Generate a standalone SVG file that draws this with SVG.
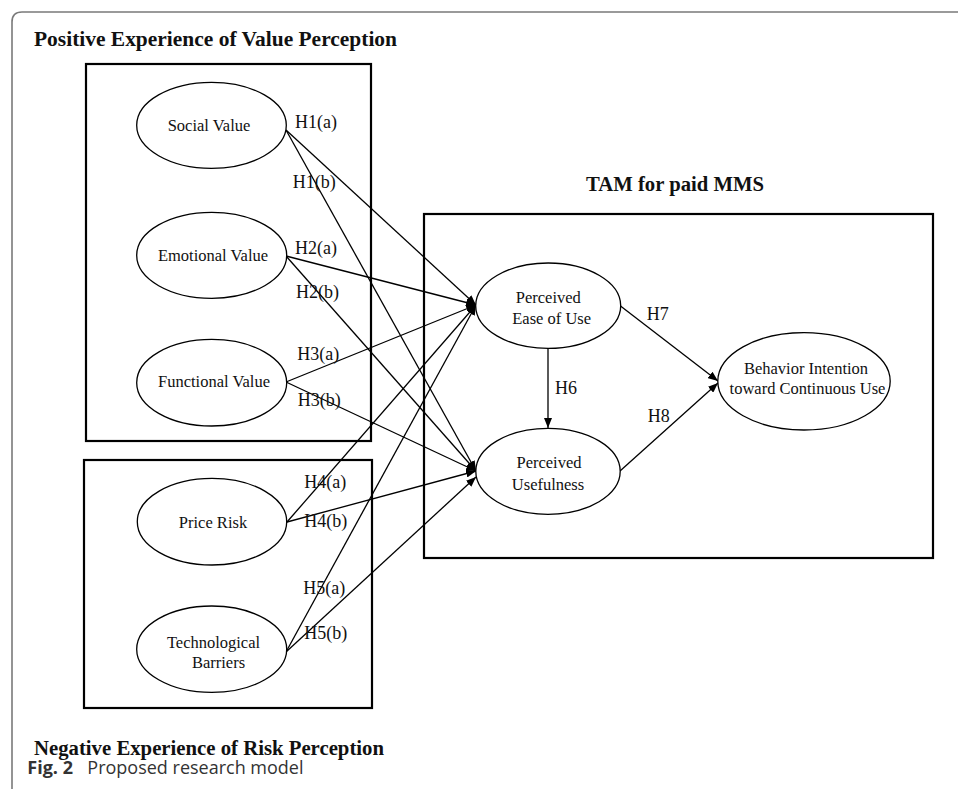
<svg xmlns="http://www.w3.org/2000/svg" width="958" height="789" viewBox="0 0 958 789">
<style>
.frame{fill:none;stroke:#7a7a7a;stroke-width:1.6}
.box{fill:none;stroke:#000;stroke-width:2.2}
.ell{fill:#fff;stroke:#000;stroke-width:1.3}
.lbl{font-family:"Liberation Serif","Times New Roman",serif;font-size:16.5px;fill:#111}
.hyp{font-family:"Liberation Serif","Times New Roman",serif;font-size:18px;fill:#111}
.ttl{font-family:"Liberation Serif","Times New Roman",serif;font-size:20.7px;font-weight:bold;fill:#111}
.cap{font-family:"Open Sans","Noto Sans",sans-serif;font-size:18px;fill:#333}
.conn line{stroke:#000;stroke-width:1.3;marker-end:url(#ah)}
</style>
<defs>
<marker id="ah" viewBox="0 0 10 8" refX="10" refY="4" markerWidth="10" markerHeight="8" markerUnits="userSpaceOnUse" orient="auto">
<path d="M0,0 L10,4 L0,8 Z" fill="#000"/>
</marker>
</defs>
<rect width="958" height="789" fill="#fff"/>
<path class="frame" d="M12,789 V22 Q12,12 22,12 H958"/>

<text class="ttl" x="34" y="46" textLength="363" lengthAdjust="spacingAndGlyphs">Positive Experience of Value Perception</text>
<text class="ttl" x="34" y="755" textLength="350" lengthAdjust="spacingAndGlyphs">Negative Experience of Risk Perception</text>
<text class="ttl" x="675" y="191" text-anchor="middle">TAM for paid MMS</text>
<text class="cap" x="27.3" y="774" font-weight="bold" fill="#222">Fig. 2</text>
<text class="cap" x="87.3" y="774">Proposed research model</text>

<g id="group-positive"><rect class="box" x="86" y="64" width="285" height="377"/></g>
<g id="group-negative"><rect class="box" x="84" y="460" width="288" height="248"/></g>
<g id="group-tam"><rect class="box" x="424" y="214" width="509" height="344"/></g>

<g class="conn" id="connectors">
<line x1="286" y1="130" x2="476" y2="305"/>
<line x1="286" y1="130" x2="476" y2="471"/>
<line x1="286" y1="256" x2="476" y2="305"/>
<line x1="286" y1="256" x2="476" y2="471"/>
<line x1="286" y1="382" x2="476" y2="305"/>
<line x1="286" y1="382" x2="476" y2="471"/>
<line x1="287" y1="522" x2="476" y2="305"/>
<line x1="287" y1="522" x2="476" y2="471"/>
<line x1="286" y1="652" x2="476" y2="305"/>
<line x1="286" y1="652" x2="476" y2="477"/>
<line x1="548" y1="348.5" x2="548" y2="428"/>
<line x1="620.5" y1="306" x2="718" y2="381"/>
<line x1="620" y1="471" x2="718" y2="383"/>
</g>

<g id="social-value"><ellipse class="ell" cx="211.5" cy="125.3" rx="74.8" ry="43"/><text class="lbl" x="209" y="131" text-anchor="middle">Social Value</text></g>
<g id="emotional-value"><ellipse class="ell" cx="211.7" cy="255.3" rx="75" ry="43"/><text class="lbl" x="213" y="261" text-anchor="middle">Emotional Value</text></g>
<g id="functional-value"><ellipse class="ell" cx="211.7" cy="382.7" rx="75" ry="43.3"/><text class="lbl" x="214" y="387" text-anchor="middle">Functional Value</text></g>
<g id="price-risk"><ellipse class="ell" cx="212" cy="521.7" rx="74.7" ry="43.3"/><text class="lbl" x="213" y="527.5" text-anchor="middle">Price Risk</text></g>
<g id="technological-barriers"><ellipse class="ell" cx="211.7" cy="649.2" rx="75" ry="43.2"/><text class="lbl" text-anchor="middle"><tspan x="213.5" y="647.5">Technological</tspan><tspan x="218.5" y="668">Barriers</tspan></text></g>
<g id="perceived-ease-of-use"><ellipse class="ell" cx="548.2" cy="305.7" rx="72.5" ry="42.7"/><text class="lbl" text-anchor="middle"><tspan x="548.3" y="302.5">Perceived</tspan><tspan x="551.7" y="324">Ease of Use</tspan></text></g>
<g id="perceived-usefulness"><ellipse class="ell" cx="548" cy="471.3" rx="72.2" ry="43"/><text class="lbl" text-anchor="middle"><tspan x="549" y="468">Perceived</tspan><tspan x="548" y="489.5">Usefulness</tspan></text></g>
<g id="behavior-intention"><ellipse class="ell" cx="804" cy="381.3" rx="86.2" ry="48.7"/><text class="lbl" text-anchor="middle"><tspan x="806" y="374">Behavior Intention</tspan><tspan x="807.5" y="393.5">toward Continuous Use</tspan></text></g>

<g id="hypothesis-labels">
<text class="hyp" x="295" y="128">H1(a)</text>
<text class="hyp" x="292.7" y="188">H1(b)</text>
<text class="hyp" x="295" y="253.5">H2(a)</text>
<text class="hyp" x="296" y="297.5">H2(b)</text>
<text class="hyp" x="297.3" y="359.5">H3(a)</text>
<text class="hyp" x="297.7" y="406">H3(b)</text>
<text class="hyp" x="304.3" y="487.5">H4(a)</text>
<text class="hyp" x="304.3" y="527">H4(b)</text>
<text class="hyp" x="303.3" y="594">H5(a)</text>
<text class="hyp" x="304.3" y="638.5">H5(b)</text>
<text class="hyp" x="555" y="394">H6</text>
<text class="hyp" x="646.7" y="320">H7</text>
<text class="hyp" x="647.7" y="422">H8</text>
</g>
</svg>
